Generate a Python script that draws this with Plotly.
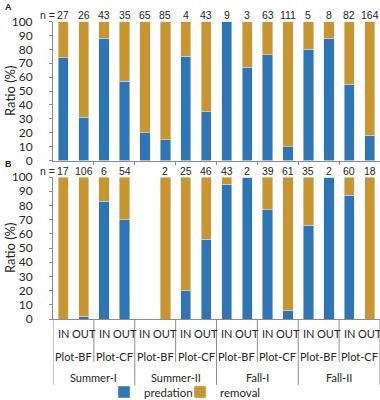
import plotly.graph_objects as go

seasons = ["Summer-I", "Summer-II", "Fall-I", "Fall-II"]
plots = ["Plot-BF", "Plot-CF"]
sides = ["IN", "OUT"]

# predation (%) per bar, 16 bars: season x plot x side
pred_A = [74, 31, 88, 57, 20, 15, 75, 35, 100, 67, 76, 10, 80, 88, 55, 18]
n_A = [27, 26, 43, 35, 65, 85, 4, 43, 9, 3, 63, 111, 5, 8, 82, 164]
pred_B = [0, 2, 83, 70, None, 0, 20, 56, 95, 100, 77, 6, 66, 100, 87, 0]
n_B = [17, 106, 6, 54, None, 2, 25, 46, 43, 2, 39, 61, 35, 2, 60, 18]

BLUE = "#2E75B6"
GOLD = "#C9952E"
FONT = "Lato"
TXT = "#262626"
W, H = 380, 400

def py(y):
    return 1 - y / H

xs = list(range(16))
rem_A = [None if v is None else 100 - v for v in pred_A]
rem_B = [None if v is None else 100 - v for v in pred_B]

fig = go.Figure()
fig.add_bar(x=xs, y=pred_A, marker_color=BLUE, name="predation", width=0.5,
            xaxis="x", yaxis="y", legendgroup="p", legend="legend")
fig.add_bar(x=xs, y=rem_A, marker_color=GOLD, name="removal", width=0.5,
            xaxis="x", yaxis="y", legendgroup="r", legend="legend2")
fig.add_bar(x=xs, y=pred_B, marker_color=BLUE, name="predation", width=0.5,
            xaxis="x2", yaxis="y2", legendgroup="p", showlegend=False)
fig.add_bar(x=xs, y=rem_B, marker_color=GOLD, name="removal", width=0.5,
            xaxis="x2", yaxis="y2", legendgroup="r", showlegend=False)

xdom = [53 / W, 1.0]
AX = "#8c8c8c"
yax = dict(range=[0, 100], tickvals=list(range(0, 101, 10)), ticks="outside",
           ticklen=3, tickcolor=AX, showline=True, linecolor=AX, linewidth=1,
           showgrid=False, zeroline=False, automargin=False, ticklabelstandoff=14,
           tickfont=dict(family=FONT, size=12, color=TXT))

leg = dict(orientation="h", xanchor="left", y=py(392), yanchor="middle",
           font=dict(family=FONT, size=11.5, color=TXT), itemwidth=30,
           bgcolor="rgba(0,0,0,0)", borderwidth=0)

fig.update_layout(
    width=W, height=H, margin=dict(l=0, r=0, t=0, b=0, autoexpand=False),
    paper_bgcolor="white", plot_bgcolor="white", barmode="stack",
    xaxis=dict(domain=xdom, range=[-0.5, 15.5], anchor="y", showline=True,
               linecolor=AX, tickvals=[1.5, 3.5, 5.5, 7.5, 9.5, 11.5, 13.5],
               ticks="outside", ticklen=3, tickcolor=AX, showticklabels=False,
               showgrid=False, zeroline=False, automargin=False),
    yaxis=dict(domain=[py(160.5), py(21.5)], anchor="x", **yax),
    xaxis2=dict(domain=xdom, range=[-0.5, 15.5], anchor="y2", showline=True,
                linecolor=AX, showticklabels=False, ticks="", showgrid=False,
                zeroline=False, automargin=False),
    yaxis2=dict(domain=[py(319), py(177)], anchor="x2", **yax),
    legend=dict(x=104 / W, **leg),
    legend2=dict(x=180 / W, **leg),
    showlegend=True,
)

ann = []
nfont = dict(family="Liberation Sans", size=10.5, color=TXT)
def n_labels(ns, ytop, xa):
    for i, n in enumerate(ns):
        if n is None:
            continue
        ann.append(dict(x=i, y=py(ytop), xref=xa, yref="paper", text=str(n),
                        showarrow=False, yanchor="middle", font=nfont))
    ann.append(dict(x=-0.3, y=py(ytop), xref=xa, yref="paper", text="n =",
                    showarrow=False, xanchor="right", yanchor="middle", font=nfont))

n_labels(n_A, 15, "x")
n_labels(n_B, 171, "x2")

lab_font = dict(family=FONT, size=11, color=TXT)
for i in range(16):
    ann.append(dict(x=i, y=py(333), xref="x2", yref="paper", text=sides[i % 2],
                    showarrow=False, yanchor="middle", font=lab_font))
for j in range(8):
    ann.append(dict(x=2 * j + 0.5, y=py(356), xref="x2", yref="paper",
                    text=plots[j % 2], showarrow=False, yanchor="middle", font=lab_font))
for k, s in enumerate(seasons):
    ann.append(dict(x=4 * k + 1.5, y=py(377), xref="x2", yref="paper", text=s,
                    showarrow=False, yanchor="middle", font=lab_font))

# y-axis titles
for yc in (91, 248):
    ann.append(dict(x=10 / W, y=py(yc), xref="paper", yref="paper", text="Ratio (%)",
                    textangle=-90, showarrow=False, xanchor="center", yanchor="middle",
                    font=dict(family=FONT, size=13, color=TXT)))

ann.append(dict(x=3 / W, y=py(7), xref="paper", yref="paper", text="<b>A</b>",
                showarrow=False, xanchor="left", yanchor="middle",
                font=dict(family="Liberation Sans", size=9, color="#222")))
ann.append(dict(x=3 / W, y=py(164), xref="paper", yref="paper", text="<b>B</b>",
                showarrow=False, xanchor="left", yanchor="middle",
                font=dict(family="Liberation Sans", size=9, color="#222")))
fig.update_layout(annotations=ann)

shapes = []
for b in range(1, 16, 2):
    xb = b + 0.5
    season_edge = (b + 1) % 4 == 0
    ybot = 385 if season_edge else 362
    shapes.append(dict(type="line", xref="x2", yref="paper", x0=xb, x1=xb,
                       y0=py(319), y1=py(ybot), line=dict(color=AX, width=1)))
shapes.append(dict(type="line", xref="x2", yref="paper", x0=-0.5, x1=-0.5,
                   y0=py(319), y1=py(385), line=dict(color=AX, width=1)))
fig.update_layout(shapes=shapes)

fig.write_html("out.html", config={"displayModeBar": False},
               post_script="document.body.style.margin='0';")
